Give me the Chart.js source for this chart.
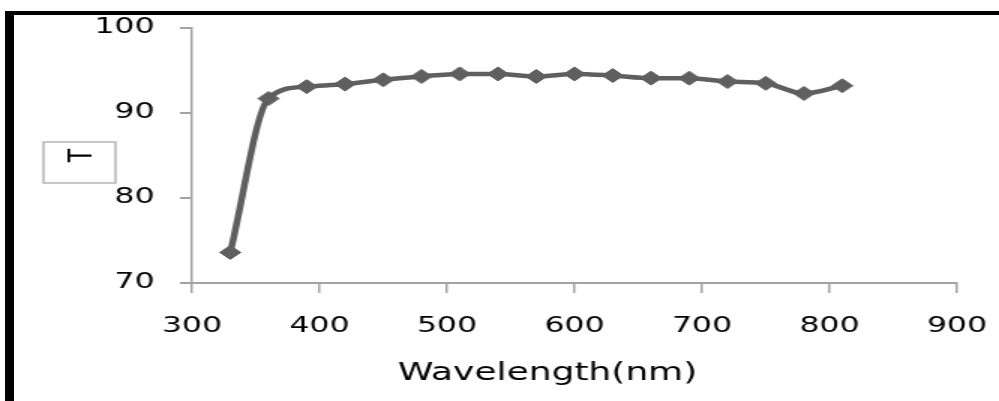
<!DOCTYPE html>
<html>
<head>
<meta charset="utf-8">
<script src="https://cdn.jsdelivr.net/npm/chart.js@4.4.1/dist/chart.umd.min.js"></script>
<style>
  html, body { margin: 0; padding: 0; background: #fff; overflow: hidden; }
  #chart { position: absolute; left: 0; top: 0; transform: scaleX(1.5); transform-origin: 0 0; }
  #frame {
    position: absolute; left: 5px; top: 11px; width: 1100px; height: 500px;
    border-top: 4px solid #000; border-left: 9px solid #000; box-sizing: border-box;
  }
</style>
</head>
<body>
<canvas id="chart" width="666" height="401"></canvas>
<div id="frame"></div>
<script>
const wavelengths = [330, 360, 390, 420, 450, 480, 510, 540, 570, 600, 630, 660, 690, 720, 750, 780, 810];
const transmittance = [73.6, 91.7, 93.1, 93.4, 93.9, 94.3, 94.6, 94.6, 94.3, 94.6, 94.4, 94.1, 94.1, 93.7, 93.5, 92.3, 93.2];
const xRange = [300, 900];
const yRange = [70, 100];
const xTitle = "Wavelength(nm)";
const yTitle = "T";

const axisGrey = "#a3a3a3";
const seriesGrey = "#5f5f5f";
const fontFamily = '"DejaVu Sans", Verdana, sans-serif';

// boxed y title and the x title, Excel style
const axisTitles = {
  id: "axisTitles",
  afterDraw(chart) {
    const { ctx, chartArea } = chart;
    ctx.save();
    ctx.strokeStyle = "#b5b5b5";
    ctx.lineWidth = 1.5;
    ctx.strokeRect(chartArea.left - 99, chartArea.top + 114, 48, 41);
    ctx.fillStyle = "#000";
    ctx.font = `24px ${fontFamily}`;
    ctx.textAlign = "center";
    ctx.textBaseline = "alphabetic";
    ctx.fillText(xTitle, chartArea.left + 237, chartArea.bottom + 97);
    ctx.restore();
  },
};

const ctx = document.getElementById("chart").getContext("2d");
new Chart(ctx, {
  type: "line",
  data: {
    datasets: [
      {
        data: wavelengths.map((x, i) => ({ x, y: transmittance[i] })),
        borderColor: seriesGrey,
        borderWidth: 4.5,
        cubicInterpolationMode: "monotone",
        pointStyle: "rectRot",
        pointRadius: 7,
        pointBackgroundColor: seriesGrey,
        pointBorderColor: seriesGrey,
        pointBorderWidth: 1,
        fill: false,
      },
    ],
  },
  options: {
    responsive: false,
    animation: false,
    layout: { padding: { top: 28, right: 28, bottom: 0, left: 0 } },
    plugins: { legend: { display: false }, tooltip: { enabled: false } },
    scales: {
      x: {
        type: "linear",
        min: xRange[0],
        max: xRange[1],
        afterFit: (scale) => {
          scale.height = 118;
          scale.paddingLeft = 0;
          scale.paddingRight = 0;
        },
        ticks: {
          stepSize: 100,
          padding: 21,
          color: "#000",
          font: { family: fontFamily, size: 21 },
        },
        grid: { drawOnChartArea: false, tickLength: 10, color: axisGrey, lineWidth: 1.5 },
        border: { color: axisGrey, width: 2 },
      },
      y: {
        min: yRange[0],
        max: yRange[1],
        afterFit: (scale) => {
          scale.width = 128;
          scale.paddingTop = 0;
          scale.paddingBottom = 0;
        },
        title: {
          display: true,
          text: yTitle,
          color: "#000",
          font: { family: fontFamily, size: 22 },
          padding: { top: 42, bottom: 0 },
        },
        ticks: {
          stepSize: 10,
          padding: 17,
          color: "#000",
          font: { family: fontFamily, size: 21 },
        },
        grid: { drawOnChartArea: false, tickLength: 8, color: axisGrey, lineWidth: 2 },
        border: { color: axisGrey, width: 1.5 },
      },
    },
  },
  plugins: [axisTitles],
});
</script>
</body>
</html>
